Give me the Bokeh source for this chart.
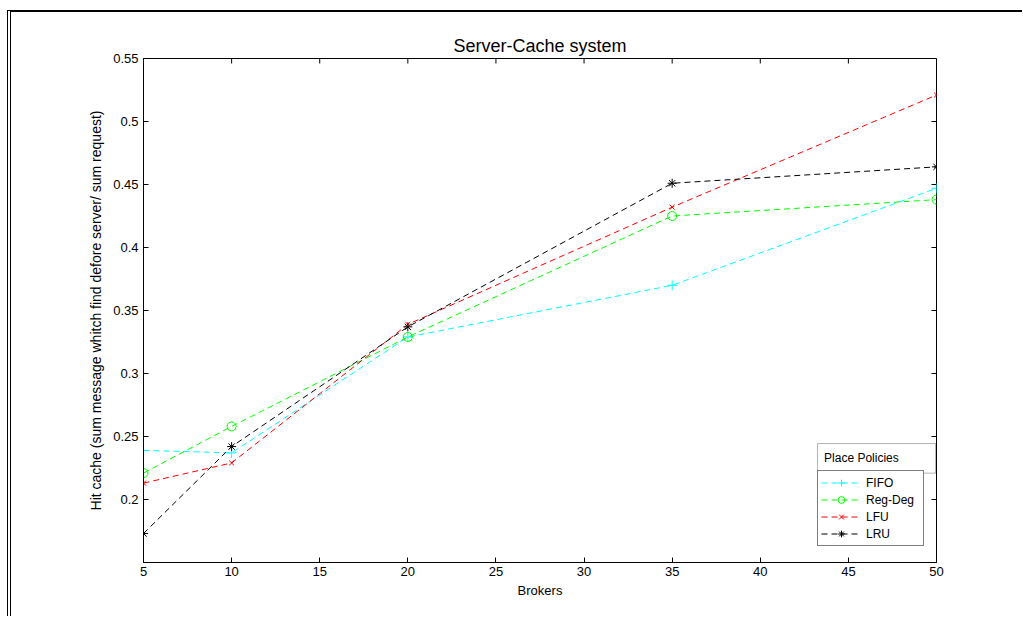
from bokeh.plotting import figure
from bokeh.models import Range1d, FixedTicker, Legend, LegendItem, BoxAnnotation, Label
from bokeh.embed import file_html
from bokeh.resources import INLINE

# ---- data ----
brokers = [5, 10, 20, 35, 50]
fifo = [0.239, 0.237, 0.329, 0.370, 0.447]
reg_deg = [0.221, 0.258, 0.329, 0.425, 0.438]
lfu = [0.213, 0.229, 0.339, 0.432, 0.521]
lru = [0.173, 0.242, 0.337, 0.451, 0.464]

x_ticks = [5, 10, 15, 20, 25, 30, 35, 40, 45, 50]
y_ticks = [0.2, 0.25, 0.3, 0.35, 0.4, 0.45, 0.5, 0.55]
y_tick_labels = ["0.2", "0.25", "0.3", "0.35", "0.4", "0.45", "0.5", "0.55"]

series_names = ["FIFO", "Reg-Deg", "LFU", "LRU"]
series_vals = [fifo, reg_deg, lfu, lru]
series_colors = ["#00FFFF", "#00FF00", "#FF0000", "#000000"]
series_markers = ["cross", "circle", "x", "asterisk"]
series_sizes = [10, 9, 7, 9]

FONT = "Liberation Sans"
X0, X1, Y0, Y1 = 5, 50, 0.15, 0.55
FW, FH = 793, 504
TICK = 5

p = figure(
    frame_width=FW, frame_height=FH,
    min_border_left=132, min_border_top=46, min_border_right=86, min_border_bottom=54,
    x_range=Range1d(X0, X1), y_range=Range1d(Y0, Y1),
    output_backend="svg", toolbar_location=None,
    title="Server-Cache system",
)
p.styles = {"margin-left": "7px", "margin-top": "10px",
            "border-top": "2px solid black", "border-left": "4px double black"}
p.title.align = "center"
p.title.text_font = FONT
p.title.text_font_size = "18px"
p.title.text_font_style = "normal"
p.title.text_color = "#000000"
p.title.standoff = 6

p.xgrid.visible = False
p.ygrid.visible = False
p.outline_line_color = "black"
p.outline_line_width = 1
p.outline_line_alpha = 1

def style_axis(ax):
    ax.axis_line_color = "black"
    ax.major_tick_line_color = "black"
    ax.major_tick_in = TICK
    ax.major_tick_out = 0
    ax.minor_tick_line_color = None
    ax.major_label_text_font = FONT
    ax.major_label_text_font_size = "13px"
    ax.major_label_text_color = "black"
    ax.axis_label_text_font = FONT
    ax.axis_label_text_font_style = "normal"
    ax.axis_label_text_color = "black"

xa = p.xaxis[0]
xa.ticker = FixedTicker(ticks=x_ticks)
style_axis(xa)
xa.major_label_standoff = 4
xa.axis_label = "Brokers"
xa.axis_label_text_font_size = "13px"
xa.axis_label_standoff = 4

ya = p.yaxis[0]
ya.ticker = FixedTicker(ticks=y_ticks)
ya.major_label_overrides = {t: s for t, s in zip(y_ticks, y_tick_labels)}
style_axis(ya)
ya.major_label_standoff = 5
ya.axis_label = "Hit cache (sum message whitch find defore server/ sum request)"
ya.axis_label_text_font_size = "14px"
ya.axis_label_standoff = 6

# inward ticks on top and right box edges (MATLAB "box on")
dy = TICK * (Y1 - Y0) / FH
dx = TICK * (X1 - X0) / FW
p.segment(x0=x_ticks, y0=[Y1] * len(x_ticks), x1=x_ticks, y1=[Y1 - dy] * len(x_ticks),
          line_color="black", line_width=1)
p.segment(x0=[X1] * len(y_ticks), y0=y_ticks, x1=[X1 - dx] * len(y_ticks), y1=y_ticks,
          line_color="black", line_width=1)

items = []
for name, vals, col, mk, sz in zip(series_names, series_vals, series_colors,
                                   series_markers, series_sizes):
    ln = p.line(brokers, vals, line_color=col, line_width=1, line_dash="6 4")
    sc = p.scatter(brokers, vals, marker=mk, size=sz, line_color=col,
                   fill_color=None, line_width=1)
    items.append(LegendItem(label=name, renderers=[ln, sc]))

legend = Legend(items=items, location=(674, 16), orientation="vertical")
legend.border_line_color = "black"
legend.border_line_width = 1
legend.background_fill_color = "white"
legend.background_fill_alpha = 1
legend.label_text_font = FONT
legend.label_text_font_size = "12px"
legend.label_text_color = "black"
legend.glyph_width = 40
legend.glyph_height = 17
legend.label_height = 17
legend.label_width = 54
legend.label_standoff = 5
legend.spacing = 0
legend.padding = 3
legend.margin = 0
p.add_layout(legend, "center")

title_box = BoxAnnotation(left=43.25, right=49.95, bottom=0.2209, top=0.2444,
                          fill_color="white", fill_alpha=1,
                          line_color="black", line_width=1)
p.add_layout(title_box)
p.add_layout(Label(x=43.62, y=0.2327, text="Place Policies", text_font=FONT,
                   text_font_size="12px", text_baseline="middle", text_color="black"))

open("out.html", "w").write(file_html(p, INLINE))
